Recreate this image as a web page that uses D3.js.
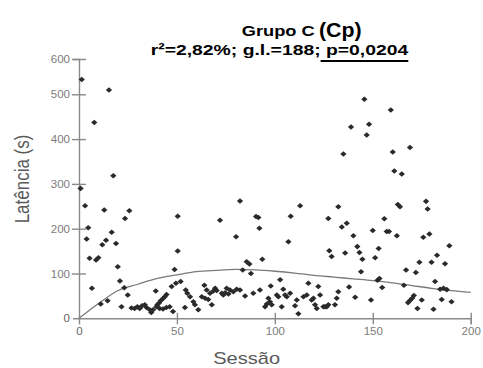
<!DOCTYPE html>
<html>
<head>
<meta charset="utf-8">
<script src="https://cdn.jsdelivr.net/npm/d3@7"></script>
<style>
  body { margin: 0; background: #fff; }
  svg { display: block; }
</style>
</head>
<body>
<svg id="chart" width="483" height="368"></svg>
<script>
// Latency per session, group C (Cp)
const sessions = [
  1.4,15.3,7.8,17.5,0.8,3.1,12.9,4.7,3.9,16.7,13.8,11.9,18.9,5.4,8.7,9.9,19.8,6.6,11.1,14.6,
  20.9,23.1,24.9,21.7,23.5,25.7,50.4,50.4,48.8,51.9,49.5,47.3,39.2,44.7,43.8,42.9,41.7,40.9,40.0,54.5,
  55.3,56.7,58.4,59.2,60.9,64.0,65.2,62.7,64.4,54.1,26.8,28.4,29.8,31.0,32.2,33.6,34.5,36.1,36.9,37.8,
  39.5,41.2,42.9,44.6,46.3,48.0,
  82.2,72.0,90.4,91.6,92.1,80.2,112.9,108.1,106.9,127.3,132.4,127.8,129.0,85.6,87.0,87.8,83.6,93.6,102.7,97.9,
  92.4,89.0,84.8,82.2,80.5,78.8,77.1,76.3,75.4,73.7,72.9,74.6,69.5,70.3,68.6,66.9,66.0,67.8,104.3,105.2,
  106.1,107.8,96.7,97.5,95.9,95.0,98.4,101.0,101.8,103.5,111.2,110.3,112.0,114.6,116.3,117.1,118.8,119.7,120.5,121.4,
  122.2,123.1,124.8,125.6,126.5,127.3,130.7,131.6,132.4,
  145.7,159.2,148.1,138.9,146.9,169.0,160.2,135.0,161.0,164.8,177.2,178.0,162.8,163.9,155.9,136.7,134.2,150.0,157.1,158.3,
  140.1,162.3,175.8,178.9,142.1,143.2,153.0,151.2,144.7,135.9,189.1,182.8,173.8,180.0,186.9,144.0,167.0,172.0,153.4,152.4,
  181.8,165.9,154.8,137.9,184.4,186.1,187.8,141.0,149.1,171.0,170.1,169.0,168.0,175.0,185.2,190.2,172.8,181.0
];
const latencies = [
  542,512,437,318,290,251,242,202,177,192,174,164,167,134,130,135,115,67,32,39,
  83,68,52,26,223,240,228,150,109,82,78,71,61,53,48,44,39,34,30,63,
  56,48,37,30,19,74,63,48,45,24,23,22,26,22,28,30,24,19,13,19,
  26,22,21,24,26,15,
  262,219,227,225,201,182,251,228,171,223,249,151,138,126,121,100,108,132,86,72,
  63,56,50,63,65,59,63,54,67,52,56,57,67,62,61,56,42,30,65,52,
  48,56,45,37,32,26,30,52,48,26,41,28,10,48,52,78,41,45,30,22,
  71,52,26,26,26,30,30,45,59,
  489,465,433,427,409,381,371,367,329,322,261,244,254,249,222,212,204,196,194,194,
  184,184,181,188,160,147,156,135,132,146,162,141,125,125,122,104,108,102,89,85,
  82,74,69,70,65,67,64,47,41,51,45,40,35,41,42,37,22,20
];

// Fitted trend
const fitSessions  = [0, 10, 20, 30, 40, 50, 60, 70, 80, 90, 100, 110, 120, 130, 140, 150, 160, 170, 180, 190, 200];
const fitLatencies = [0, 33, 62, 76, 89, 97, 104, 107, 109, 108, 105, 101, 96, 92, 88, 84, 79, 73, 67, 62, 58];

const xTicks = [0, 50, 100, 150, 200];
const yTicks = [0, 100, 200, 300, 400, 500, 600];

const titleGroup = "Grupo C";
const titleCode = "(Cp)";
const statsText = "r²=2,82%; g.l.=188; p=0,0204";
const xLabel = "Sessão";
const yLabel = "Latência (s)";

const FONT = "'Liberation Sans', Arial, Helvetica, sans-serif";
const svg = d3.select("#chart");

const plot = { left: 79, right: 470.7, top: 59, bottom: 318.3 };

const x = d3.scaleLinear().domain([0, 200]).range([plot.left, plot.right]);
// axis runs linearly to 500, the last segment up to 600 is compressed
const yLin = d3.scaleLinear().domain([0, 500]).range([plot.bottom, 94.3]);
const y = d3.scaleLinear().domain([0, 500, 600]).range([yLin(0), yLin(500), plot.top]);

const axisColor = "#8a8a8a";
const labelColor = "#7c7c7c";

// x axis
const gx = svg.append("g")
  .attr("transform", `translate(0,${plot.bottom})`)
  .call(d3.axisBottom(x).tickValues(xTicks).tickSizeOuter(0).tickSize(6).tickPadding(3));
gx.select(".domain").attr("stroke", axisColor).attr("stroke-width", 1.4);
gx.selectAll(".tick line").attr("stroke", axisColor).attr("stroke-width", 1.4)
  .attr("y1", -5.5).attr("y2", 6)
  .filter(d => d === 0).remove();
gx.selectAll(".tick text").attr("fill", labelColor).attr("font-family", FONT).attr("font-size", 11.5);

// y axis
const gy = svg.append("g")
  .attr("transform", `translate(${plot.left},0)`)
  .call(d3.axisLeft(y).tickValues(yTicks).tickSizeOuter(0).tickSize(6).tickPadding(3));
gy.select(".domain").attr("stroke", axisColor).attr("stroke-width", 1.4);
gy.selectAll(".tick line").attr("stroke", axisColor).attr("stroke-width", 1.4)
  .attr("x1", 7).attr("x2", -7)
  .filter(d => d === 0).remove();
gy.selectAll(".tick text").attr("fill", labelColor).attr("font-family", FONT).attr("font-size", 11.5);
gy.selectAll(".tick text").filter(d => d === 0).attr("fill", "#666");
gx.selectAll(".tick text").filter(d => d === 0).attr("fill", "#666");

// fitted curve
const fitData = fitSessions.map((s, i) => [s, fitLatencies[i]]);
svg.append("path")
  .datum(fitData)
  .attr("fill", "none")
  .attr("stroke", "#7a7a7a")
  .attr("stroke-width", 1.3)
  .attr("d", d3.line().x(d => x(d[0])).y(d => y(d[1])).curve(d3.curveMonotoneX));

// points
const pts = sessions.map((s, i) => [s, latencies[i]]);
const marker = d3.symbol().type(d3.symbolDiamond2).size(25);
svg.append("g")
  .selectAll("path")
  .data(pts)
  .join("path")
  .attr("d", marker)
  .attr("transform", d => `translate(${x(d[0])},${y(d[1])}) scale(1,0.88)`)
  .attr("fill", "#2a2a2a");

// axis titles
svg.append("text")
  .attr("x", 246.7).attr("y", 364)
  .attr("text-anchor", "middle")
  .attr("font-family", FONT).attr("font-size", 17)
  .attr("fill", "#5a5a5a")
  .attr("textLength", 67).attr("lengthAdjust", "spacingAndGlyphs")
  .text(xLabel);

svg.append("text")
  .attr("transform", "translate(29,179) scale(1.18,1) rotate(-90)")
  .attr("text-anchor", "middle")
  .attr("font-family", FONT).attr("font-size", 17)
  .attr("fill", "#5a5a5a")
  .text(yLabel);

// title
svg.append("text")
  .attr("x", 241.7).attr("y", 36)
  .attr("font-family", FONT).attr("font-weight", "bold").attr("font-size", 15)
  .attr("fill", "#000")
  .attr("textLength", 73).attr("lengthAdjust", "spacingAndGlyphs")
  .text(titleGroup);
svg.append("text")
  .attr("x", 319).attr("y", 36.5)
  .attr("font-family", FONT).attr("font-weight", "bold").attr("font-size", 20)
  .attr("fill", "#000")
  .attr("textLength", 42.7).attr("lengthAdjust", "spacingAndGlyphs")
  .text(titleCode);

const stats = svg.append("text")
  .attr("x", 150.7).attr("y", 55)
  .attr("font-family", FONT).attr("font-weight", "bold").attr("font-size", 15.3)
  .attr("fill", "#000")
  .attr("textLength", 257.6).attr("lengthAdjust", "spacingAndGlyphs")
  .text(statsText);

// underline below the p-value, starting at the space before it
const node = stats.node();
const pIndex = statsText.indexOf("p=");
const uStart = node.getStartPositionOfChar(pIndex - 1).x;
const uEnd = node.getEndPositionOfChar(statsText.length - 1).x;
svg.append("line")
  .attr("x1", uStart).attr("x2", uEnd)
  .attr("y1", 61).attr("y2", 61)
  .attr("stroke", "#000").attr("stroke-width", 2);
</script>
</body>
</html>
